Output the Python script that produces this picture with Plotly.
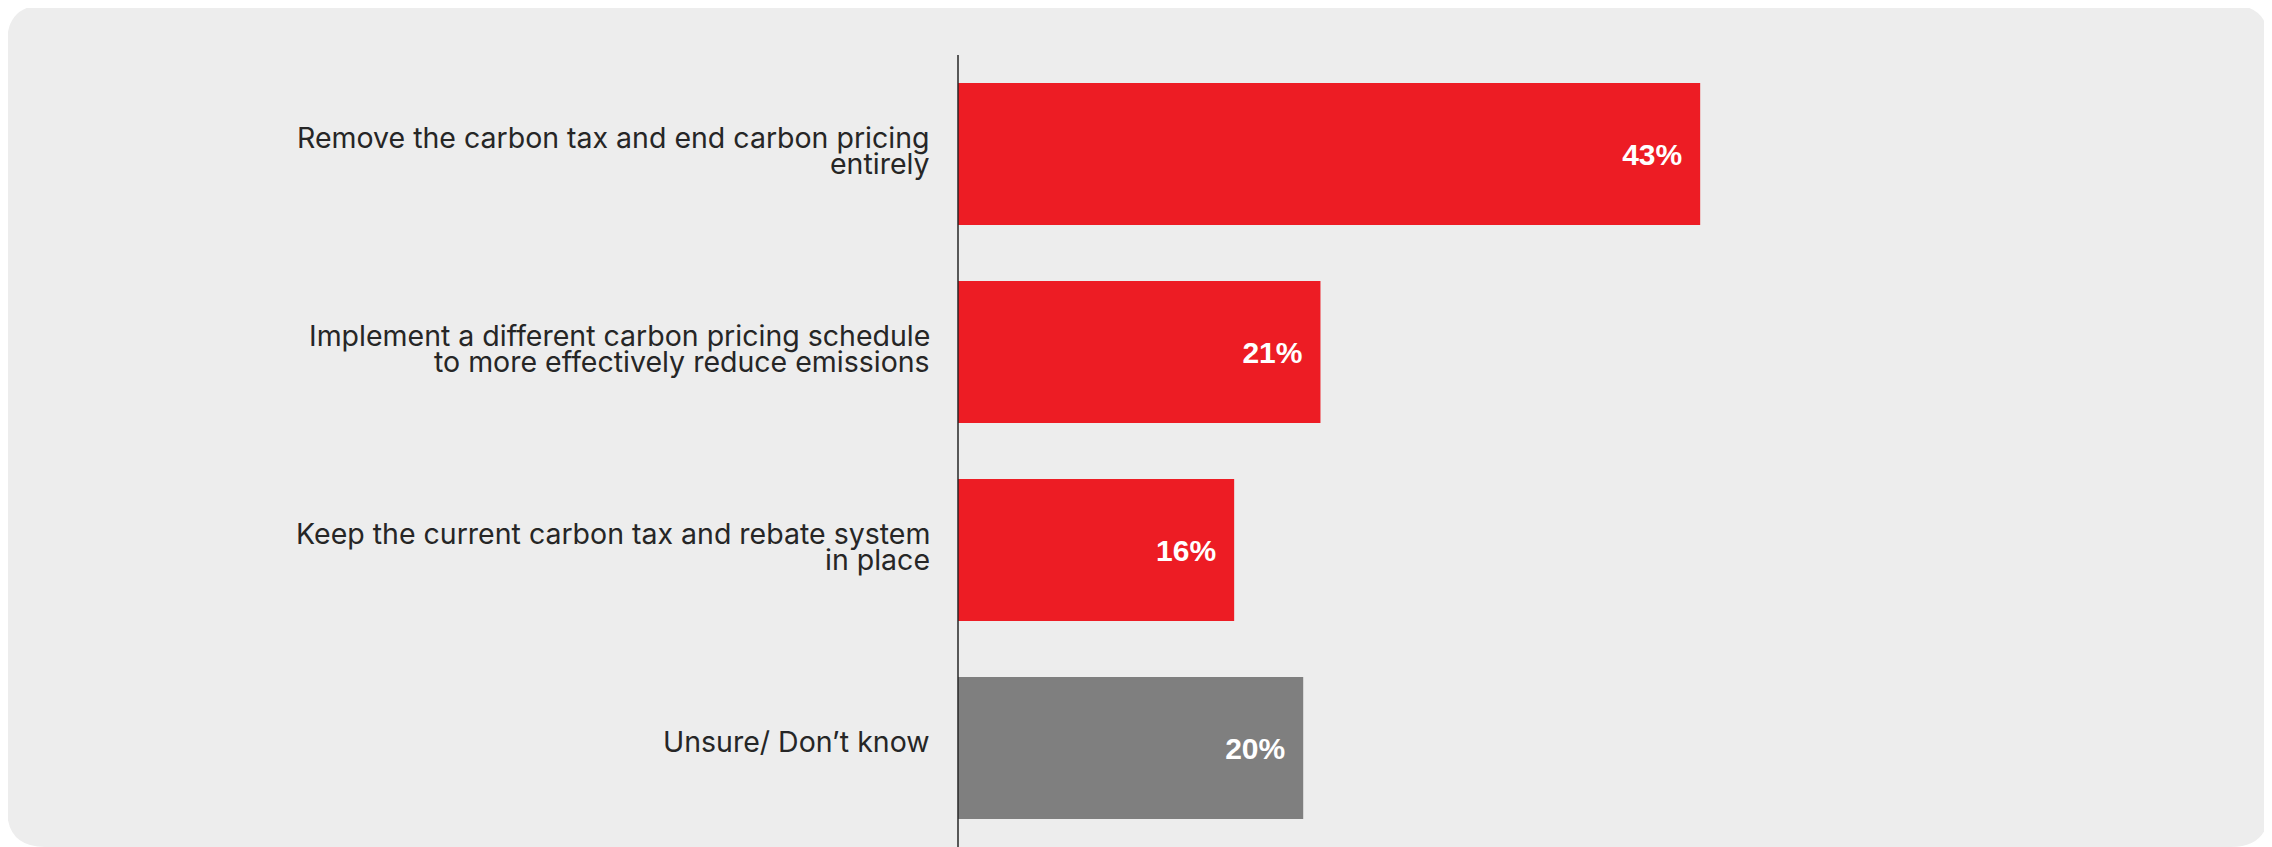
import plotly.graph_objects as go

# --- data ---
categories = [
    "Remove the carbon tax and end carbon pricing entirely",
    "Implement a different carbon pricing schedule to more effectively reduce emissions",
    "Keep the current carbon tax and rebate system in place",
    "Unsure/ Don’t know",
]
label_lines = [
    ["Remove the carbon tax and end carbon pricing", "entirely"],
    ["Implement a different carbon pricing schedule", "to more effectively reduce emissions"],
    ["Keep the current carbon tax and rebate system", "in place"],
    ["Unsure/ Don’t know"],
]
values = [43, 21, 16, 20]
bar_colors = ["#ED1C24", "#ED1C24", "#ED1C24", "#7F7F7F"]

# --- canvas (page body has an 8px margin, so the figure is offset by it) ---
OFF = 8
W, H = 2272 - OFF, 847 - OFF
ML, MR, MT, MB = 958 - OFF, 42, 55 - OFF, 0
PW, PH = W - ML - MR, H - MT - MB
PX_PER_PCT = 17.26


def px2paper(px, py):
    # page pixel -> paper coords
    return (px - OFF - ML) / PW, (H - MB - (py - OFF)) / PH


def rounded_rect(x0, y0, x1, y1, r):
    def P(x, y):
        a, b = px2paper(x, y)
        return f"{a:.5f},{b:.5f}"
    return (
        f"M {P(x0 + r, y0)} L {P(x1 - r, y0)} "
        f"Q {P(x1, y0)} {P(x1, y0 + r)} "
        f"L {P(x1, y1 - r)} Q {P(x1, y1)} {P(x1 - r, y1)} "
        f"L {P(x0 + r, y1)} Q {P(x0, y1)} {P(x0, y1 - r)} "
        f"L {P(x0, y0 + r)} Q {P(x0, y0)} {P(x0 + r, y0)} Z"
    )


fig = go.Figure()
fig.add_trace(go.Bar(
    y=categories,
    x=values,
    orientation="h",
    marker=dict(color=bar_colors, line=dict(width=0)),
    text=[f"{v}%\u2002" for v in values],
    textposition="inside",
    insidetextanchor="end",
    textfont=dict(family="Liberation Sans, Arial, sans-serif", size=30, color="white", weight="bold"),
    cliponaxis=False,
    hoverinfo="skip",
))

# category labels, one annotation per line for tight line spacing
annotations = []
LINE_GAP = 26
for cat, lines in zip(categories, label_lines):
    n = len(lines)
    for i, line in enumerate(lines):
        shift = ((n - 1) / 2 - i) * LINE_GAP + (3.5 if n > 1 else 7)
        annotations.append(dict(
            x=0, xref="paper", y=cat, yref="y",
            text=line, showarrow=False,
            xanchor="right", yanchor="middle",
            xshift=-26, yshift=shift,
            font=dict(family="Inter, Roboto, sans-serif", size=28.5, color="#262626"),
        ))

fig.update_layout(
    width=W, height=H,
    margin=dict(l=ML, r=MR, t=MT, b=MB),
    paper_bgcolor="white",
    plot_bgcolor="rgba(0,0,0,0)",
    bargap=0.283,
    showlegend=False,
    xaxis=dict(range=[0, PW / PX_PER_PCT], visible=False, fixedrange=True),
    yaxis=dict(
        autorange="reversed",
        showticklabels=False,
        showgrid=False,
        zeroline=False,
        showline=False,
        ticks="",
    ),
    annotations=annotations,
    shapes=[
        dict(
            type="path", xref="paper", yref="paper",
            path=rounded_rect(7, 5, 2269, 847, 38),
            fillcolor="#EDEDED", line=dict(width=0), layer="below",
        ),
        dict(
            type="line", xref="paper", yref="paper",
            x0=0, x1=0, y0=0, y1=1,
            line=dict(color="#262626", width=1.5), layer="above",
        ),
    ],
)

fig.write_html("out.html")
